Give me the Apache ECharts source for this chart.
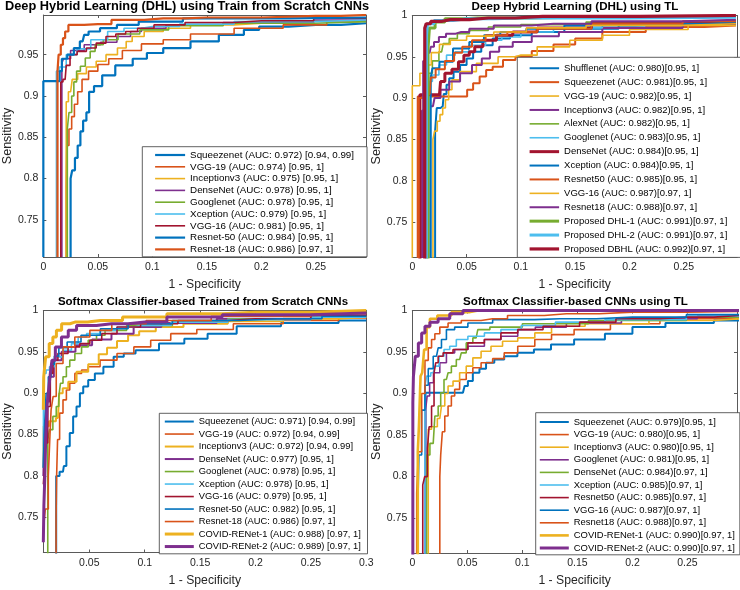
<!DOCTYPE html>
<html><head><meta charset="utf-8">
<script src="https://cdn.jsdelivr.net/npm/echarts@6/dist/echarts.min.js"></script>
<style>html,body{margin:0;padding:0;background:#fff}#c{width:740px;height:590px}</style>
</head><body><div id="c"></div>
<script>
// ---------- Panel titles ----------
const titles = [
  'Deep Hybrid Learning (DHL) using Train from Scratch CNNs',
  'Deep Hybrid Learning (DHL) using TL',
  'Softmax Classifier-based Trained from Scratch CNNs',
  'Softmax Classifier-based CNNs using TL'
];
const xName = '1 - Specificity';
const yName = 'Sensitivity';

// ---------- Panel 1: DHL, train from scratch ----------
const p1Labels = [
  'Squeezenet (AUC: 0.972) [0.94, 0.99]', 'VGG-19 (AUC: 0.974) [0.95, 1]', 'Inceptionv3 (AUC: 0.975) [0.95, 1]',
  'DenseNet (AUC: 0.978) [0.95, 1]', 'Googlenet (AUC: 0.978) [0.95, 1]', 'Xception (AUC: 0.979) [0.95, 1]',
  'VGG-16 (AUC: 0.981) [0.95, 1]', 'Resnet-50 (AUC: 0.984) [0.95, 1]', 'Resnet-18 (AUC: 0.986) [0.97, 1]'
];
const p1Squeezenet = [[0.025,0.705],[0.025,0.80],[0.028,0.81],[0.03,0.825],[0.033,0.84],[0.035,0.857],[0.038,0.87],[0.041,0.88],[0.043,0.905],[0.05,0.912],[0.058,0.925],[0.074,0.937],[0.09,0.945],[0.1,0.952],[0.12,0.958],[0.15,0.966],[0.172,0.974],[0.196,0.98],[0.2,0.984],[0.25,0.986],[0.296,0.988]];
const p1Vgg19 = [[0.021,0.705],[0.021,0.79],[0.022,0.84],[0.025,0.86],[0.027,0.875],[0.03,0.89],[0.033,0.905],[0.038,0.92],[0.045,0.93],[0.055,0.938],[0.065,0.945],[0.08,0.955],[0.1,0.963],[0.12,0.968],[0.15,0.975],[0.2,0.982],[0.24,0.986],[0.28,0.99],[0.296,0.991]];
const p1Inception = [[0.021,0.705],[0.021,0.893],[0.025,0.905],[0.028,0.92],[0.035,0.927],[0.044,0.935],[0.053,0.942],[0.062,0.95],[0.074,0.958],[0.078,0.966],[0.085,0.972],[0.1,0.978],[0.12,0.982],[0.15,0.986],[0.2,0.988],[0.296,0.991]];
const p1DenseNet = [[0.017,0.705],[0.017,0.94],[0.02,0.945],[0.03,0.955],[0.045,0.962],[0.06,0.965],[0.075,0.972],[0.085,0.978],[0.095,0.982],[0.13,0.986],[0.2,0.989],[0.296,0.992]];
const p1Googlenet = [[0.022,0.705],[0.022,0.86],[0.025,0.88],[0.027,0.9],[0.029,0.917],[0.032,0.93],[0.036,0.936],[0.041,0.946],[0.045,0.954],[0.05,0.962],[0.06,0.968],[0.077,0.975],[0.1,0.98],[0.13,0.985],[0.2,0.988],[0.296,0.99]];
const p1Xception = [[0.012,0.705],[0.012,0.93],[0.017,0.935],[0.025,0.95],[0.037,0.957],[0.05,0.968],[0.068,0.978],[0.08,0.982],[0.1,0.984],[0.15,0.987],[0.2,0.99],[0.296,0.992]];
const p1Vgg16 = [[0.016,0.705],[0.016,0.917],[0.02,0.92],[0.022,0.937],[0.027,0.95],[0.035,0.954],[0.044,0.958],[0.053,0.964],[0.062,0.972],[0.071,0.975],[0.08,0.978],[0.093,0.982],[0.11,0.986],[0.15,0.989],[0.2,0.991],[0.296,0.994]];
const p1Resnet50 = [[0,0.705],[0,0.918],[0.015,0.918],[0.015,0.93],[0.019,0.945],[0.025,0.95],[0.031,0.958],[0.036,0.966],[0.039,0.974],[0.044,0.978],[0.06,0.982],[0.075,0.986],[0.1,0.99],[0.156,0.994],[0.296,0.995]];
const p1Resnet18 = [[0.013,0.705],[0.013,0.93],[0.015,0.95],[0.017,0.962],[0.019,0.97],[0.021,0.978],[0.025,0.986],[0.05,0.987],[0.075,0.992],[0.11,0.994],[0.15,0.995],[0.25,0.997],[0.296,0.998]];

// ---------- Panel 2: DHL, transfer learning ----------
const p2Labels = [
  'Shufflenet (AUC: 0.980)[0.95, 1]', 'Squeezenet (AUC: 0.981)[0.95, 1]', 'VGG-19 (AUC: 0.982)[0.95, 1]',
  'Inceptionv3 (AUC: 0.982)[0.95, 1]', 'AlexNet (AUC: 0.982)[0.95, 1]', 'Googlenet (AUC: 0.983)[0.95, 1]',
  'DenseNet (AUC: 0.984)[0.95, 1]', 'Xception (AUC: 0.984)[0.95, 1]', 'Resnet50 (AUC: 0.985)[0.95, 1]',
  'VGG-16 (AUC: 0.987)[0.97, 1]', 'Resnet18 (AUC: 0.988)[0.97, 1]', 'Proposed DHL-1 (AUC: 0.991)[0.97, 1]',
  'Proposed DHL-2 (AUC: 0.991)[0.97, 1]', 'Proposed DBHL (AUC: 0.992)[0.97, 1]'
];
const p2Shufflenet = [[0.021,0.705],[0.021,0.86],[0.024,0.888],[0.028,0.89],[0.03,0.905],[0.033,0.916],[0.035,0.924],[0.041,0.932],[0.047,0.94],[0.053,0.948],[0.059,0.956],[0.068,0.964],[0.08,0.972],[0.1,0.976],[0.12,0.98],[0.16,0.984],[0.22,0.988],[0.298,0.99]];
const p2Squeezenet = [[0.005,0.705],[0.005,0.902],[0.048,0.902],[0.053,0.91],[0.059,0.918],[0.065,0.926],[0.071,0.934],[0.077,0.938],[0.09,0.946],[0.1,0.95],[0.12,0.957],[0.14,0.965],[0.16,0.972],[0.19,0.98],[0.24,0.986],[0.298,0.988]];
const p2Vgg19 = [[0.019,0.705],[0.019,0.85],[0.022,0.86],[0.024,0.872],[0.027,0.88],[0.029,0.888],[0.032,0.898],[0.035,0.91],[0.038,0.922],[0.05,0.932],[0.068,0.942],[0.09,0.95],[0.1,0.952],[0.13,0.962],[0.16,0.97],[0.19,0.976],[0.21,0.983],[0.298,0.988]];
const p2Inception = [[0.009,0.705],[0.009,0.885],[0.019,0.89],[0.022,0.9],[0.03,0.91],[0.038,0.92],[0.05,0.93],[0.06,0.94],[0.068,0.948],[0.075,0.956],[0.085,0.962],[0.1,0.968],[0.12,0.975],[0.15,0.98],[0.2,0.985],[0.298,0.99]];
const p2AlexNet = [[0.015,0.705],[0.015,0.93],[0.022,0.945],[0.027,0.956],[0.03,0.966],[0.038,0.972],[0.045,0.978],[0.06,0.982],[0.08,0.986],[0.12,0.989],[0.2,0.992],[0.298,0.994]];
const p2Googlenet = [[0.016,0.705],[0.016,0.92],[0.021,0.928],[0.028,0.94],[0.035,0.952],[0.044,0.956],[0.06,0.964],[0.075,0.97],[0.09,0.974],[0.11,0.98],[0.15,0.985],[0.2,0.988],[0.298,0.991]];
const p2DenseNet = [[0.007,0.705],[0.007,0.904],[0.025,0.904],[0.027,0.92],[0.033,0.93],[0.04,0.935],[0.045,0.944],[0.05,0.952],[0.055,0.956],[0.06,0.962],[0.07,0.97],[0.085,0.976],[0.1,0.98],[0.13,0.985],[0.2,0.99],[0.298,0.992]];
const p2Xception = [[0.017,0.705],[0.017,0.925],[0.02,0.936],[0.03,0.944],[0.045,0.96],[0.06,0.968],[0.072,0.976],[0.09,0.98],[0.12,0.984],[0.16,0.988],[0.25,0.99],[0.298,0.992]];
const p2Resnet50 = [[0.006,0.705],[0.006,0.9],[0.016,0.905],[0.018,0.925],[0.025,0.935],[0.035,0.945],[0.042,0.955],[0.05,0.962],[0.06,0.97],[0.075,0.976],[0.1,0.98],[0.13,0.984],[0.2,0.99],[0.298,0.993]];
const p2Vgg16 = [[0,0.705],[0,0.915],[0.007,0.915],[0.007,0.93],[0.015,0.94],[0.02,0.955],[0.03,0.965],[0.04,0.97],[0.06,0.975],[0.09,0.98],[0.12,0.985],[0.2,0.988],[0.298,0.99]];
const p2Resnet18 = [[0.01,0.705],[0.01,0.945],[0.016,0.955],[0.018,0.962],[0.022,0.968],[0.027,0.974],[0.035,0.978],[0.045,0.98],[0.06,0.984],[0.09,0.988],[0.13,0.99],[0.2,0.993],[0.298,0.995]];
const p2Dhl1 = [[0.0145,0.705],[0.0145,0.96],[0.017,0.985],[0.025,0.992],[0.035,0.996],[0.06,0.997],[0.15,0.998],[0.298,0.999]];
const p2Dhl2 = [[0.013,0.705],[0.013,0.975],[0.015,0.99],[0.025,0.994],[0.05,0.996],[0.1,0.997],[0.298,0.998]];
const p2Dbhl = [[0.0115,0.705],[0.0115,0.985],[0.014,0.99],[0.02,0.993],[0.035,0.995],[0.07,0.997],[0.12,0.999],[0.298,1]];

// ---------- Panel 3: Softmax, train from scratch ----------
const p3Labels = [
  'Squeezenet (AUC: 0.971) [0.94, 0.99]', 'VGG-19 (AUC: 0.972) [0.94, 0.99]', 'Inceptionv3 (AUC: 0.972) [0.94, 0.99]',
  'DenseNet (AUC: 0.977) [0.95, 1]', 'Googlenet (AUC: 0.978) [0.95, 1]', 'Xception (AUC: 0.978) [0.95, 1]',
  'VGG-16 (AUC: 0.979) [0.95, 1]', 'Resnet-50 (AUC: 0.982) [0.95, 1]', 'Resnet-18 (AUC: 0.986) [0.97, 1]',
  'COVID-RENet-1 (AUC: 0.988) [0.97, 1]', 'COVID-RENet-2 (AUC: 0.989) [0.97, 1]'
];
const p3Squeezenet = [[0.0201,0.705],[0.0201,0.8],[0.0262,0.805],[0.0278,0.812],[0.0308,0.836],[0.0339,0.852],[0.0369,0.872],[0.04,0.884],[0.043,0.9],[0.046,0.908],[0.052,0.916],[0.058,0.924],[0.0674,0.932],[0.0765,0.944],[0.0857,0.948],[0.0978,0.952],[0.128,0.96],[0.1435,0.966],[0.17,0.972],[0.196,0.981],[0.25,0.985],[0.3,0.988]];
const p3Vgg19 = [[0.02,0.705],[0.02,0.75],[0.021,0.8],[0.0217,0.844],[0.0247,0.876],[0.0278,0.892],[0.0308,0.904],[0.0339,0.912],[0.04,0.924],[0.046,0.928],[0.052,0.932],[0.0674,0.94],[0.0826,0.948],[0.0978,0.956],[0.113,0.964],[0.134,0.972],[0.16,0.977],[0.2,0.984],[0.25,0.988],[0.3,0.991]];
const p3Inception = [[0.0085,0.81],[0.0092,0.86],[0.018,0.866],[0.0217,0.87],[0.024,0.9],[0.028,0.906],[0.034,0.914],[0.043,0.926],[0.055,0.935],[0.062,0.947],[0.07,0.955],[0.08,0.963],[0.09,0.97],[0.1,0.975],[0.12,0.98],[0.15,0.984],[0.2,0.987],[0.25,0.99],[0.3,0.992]];
const p3DenseNet = [[0.0085,0.8],[0.011,0.86],[0.013,0.89],[0.016,0.92],[0.02,0.94],[0.03,0.95],[0.045,0.958],[0.06,0.965],[0.08,0.972],[0.1,0.98],[0.13,0.985],[0.2,0.99],[0.3,0.994]];
const p3Googlenet = [[0.0125,0.705],[0.0125,0.844],[0.0156,0.856],[0.0186,0.872],[0.0217,0.884],[0.0232,0.896],[0.0247,0.912],[0.0278,0.92],[0.0308,0.932],[0.0339,0.94],[0.04,0.948],[0.046,0.956],[0.052,0.964],[0.061,0.97],[0.0674,0.976],[0.1,0.982],[0.15,0.986],[0.2,0.99],[0.3,0.993]];
const p3Xception = [[0.0085,0.81],[0.0088,0.916],[0.0095,0.924],[0.0125,0.928],[0.0156,0.932],[0.0217,0.944],[0.0308,0.952],[0.0369,0.96],[0.043,0.968],[0.052,0.972],[0.0674,0.976],[0.0826,0.98],[0.0978,0.982],[0.15,0.986],[0.2,0.989],[0.3,0.992]];
const p3Vgg16 = [[0.0085,0.79],[0.0095,0.8],[0.011,0.84],[0.014,0.884],[0.0156,0.924],[0.0186,0.94],[0.0247,0.948],[0.0369,0.956],[0.046,0.96],[0.055,0.964],[0.0674,0.972],[0.0826,0.98],[0.11,0.984],[0.15,0.988],[0.2,0.99],[0.3,0.994]];
const p3Resnet50 = [[0.0085,0.81],[0.01,0.85],[0.012,0.9],[0.014,0.92],[0.017,0.935],[0.02,0.945],[0.025,0.955],[0.035,0.962],[0.05,0.97],[0.07,0.978],[0.1,0.984],[0.15,0.988],[0.22,0.99],[0.3,0.993]];
const p3Resnet18 = [[0.0085,0.735],[0.012,0.76],[0.014,0.8],[0.015,0.85],[0.016,0.88],[0.0186,0.896],[0.0217,0.936],[0.0308,0.956],[0.043,0.968],[0.058,0.976],[0.0826,0.984],[0.12,0.988],[0.2,0.993],[0.3,0.996]];
const p3CovidRenet1 = [[0.0085,0.88],[0.0092,0.92],[0.012,0.944],[0.0156,0.96],[0.0186,0.968],[0.022,0.976],[0.028,0.984],[0.037,0.986],[0.06,0.988],[0.1,0.992],[0.14,0.996],[0.2,0.998],[0.3,1]];
const p3CovidRenet2 = [[0.0085,0.72],[0.0095,0.764],[0.0102,0.8],[0.011,0.844],[0.0125,0.884],[0.014,0.904],[0.0156,0.924],[0.017,0.94],[0.0217,0.956],[0.028,0.968],[0.034,0.976],[0.043,0.982],[0.07,0.984],[0.1,0.986],[0.14,0.992],[0.2,0.995],[0.3,0.997]];

// ---------- Panel 4: Softmax, transfer learning ----------
const p4Labels = [
  'Squeezenet (AUC: 0.979)[0.95, 1]', 'VGG-19 (AUC: 0.980)[0.95, 1]', 'Inceptionv3 (AUC: 0.980)[0.95, 1]',
  'Googlenet (AUC: 0.981)[0.95, 1]', 'DenseNet (AUC: 0.984)[0.97, 1]', 'Xception (AUC: 0.985)[0.97, 1]',
  'Resnet50 (AUC: 0.985)[0.97, 1]', 'VGG-16 (AUC: 0.987)[0.97, 1]', 'Resnet18 (AUC: 0.988)[0.97, 1]',
  'COVID-RENet-1 (AUC: 0.990)[0.97, 1]', 'COVID-RENet-2 (AUC: 0.990)[0.97, 1]'
];
const p4Squeezenet = [[0.012,0.705],[0.012,0.901],[0.046,0.901],[0.049,0.909],[0.052,0.915],[0.058,0.925],[0.064,0.93],[0.07,0.937],[0.079,0.941],[0.088,0.945],[0.103,0.949],[0.118,0.953],[0.134,0.959],[0.16,0.965],[0.19,0.972],[0.21,0.98],[0.25,0.985],[0.298,0.988]];
const p4Vgg19 = [[0.025,0.705],[0.025,0.8],[0.0266,0.826],[0.028,0.854],[0.031,0.873],[0.034,0.885],[0.037,0.897],[0.04,0.905],[0.046,0.917],[0.052,0.925],[0.058,0.931],[0.067,0.937],[0.079,0.942],[0.088,0.949],[0.1036,0.957],[0.119,0.965],[0.134,0.971],[0.16,0.977],[0.2,0.984],[0.25,0.99],[0.298,0.991]];
const p4Inception = [[0.0145,0.705],[0.0145,0.857],[0.0205,0.86],[0.025,0.87],[0.028,0.885],[0.031,0.9],[0.034,0.909],[0.04,0.915],[0.046,0.925],[0.052,0.933],[0.058,0.943],[0.067,0.951],[0.076,0.957],[0.088,0.963],[0.1036,0.967],[0.119,0.973],[0.134,0.981],[0.18,0.984],[0.25,0.988],[0.298,0.99]];
const p4Googlenet = [[0.012,0.705],[0.012,0.88],[0.015,0.897],[0.0165,0.913],[0.022,0.925],[0.028,0.937],[0.034,0.949],[0.043,0.953],[0.058,0.957],[0.073,0.965],[0.088,0.969],[0.1036,0.977],[0.12,0.98],[0.16,0.985],[0.22,0.99],[0.298,0.993]];
const p4DenseNet = [[0.013,0.705],[0.013,0.826],[0.019,0.84],[0.022,0.873],[0.025,0.885],[0.0266,0.901],[0.031,0.917],[0.034,0.925],[0.037,0.933],[0.043,0.941],[0.046,0.949],[0.052,0.961],[0.058,0.967],[0.061,0.977],[0.08,0.98],[0.12,0.984],[0.2,0.988],[0.298,0.992]];
const p4Xception = [[0.0115,0.705],[0.0115,0.909],[0.0145,0.921],[0.019,0.925],[0.022,0.933],[0.0266,0.945],[0.031,0.953],[0.037,0.957],[0.043,0.965],[0.058,0.969],[0.073,0.973],[0.088,0.977],[0.11,0.982],[0.15,0.986],[0.2,0.989],[0.298,0.993]];
const p4Resnet50 = [[0.0095,0.705],[0.0095,0.79],[0.013,0.8],[0.0145,0.834],[0.016,0.86],[0.019,0.885],[0.0205,0.925],[0.022,0.937],[0.025,0.945],[0.031,0.949],[0.043,0.953],[0.058,0.961],[0.073,0.965],[0.088,0.973],[0.1036,0.977],[0.134,0.981],[0.17,0.986],[0.2,0.99],[0.25,0.992],[0.298,0.994]];
const p4Vgg16 = [[0.005,0.705],[0.005,0.76],[0.007,0.826],[0.01,0.88],[0.013,0.91],[0.016,0.93],[0.022,0.945],[0.025,0.955],[0.028,0.965],[0.034,0.977],[0.043,0.98],[0.058,0.985],[0.088,0.989],[0.134,0.99],[0.2,0.992],[0.298,0.995]];
const p4Resnet18 = [[0.004,0.705],[0.004,0.78],[0.007,0.83],[0.01,0.9],[0.013,0.94],[0.016,0.955],[0.019,0.965],[0.022,0.972],[0.028,0.98],[0.037,0.985],[0.052,0.988],[0.073,0.99],[0.1,0.994],[0.14,0.996],[0.2,0.998],[0.298,0.999]];
const p4CovidRenet1 = [[0.005,0.705],[0.005,0.83],[0.007,0.86],[0.008,0.921],[0.01,0.925],[0.0115,0.953],[0.0145,0.98],[0.0175,0.99],[0.028,0.994],[0.043,0.998],[0.06,1],[0.298,1]];
const p4CovidRenet2 = [[0.0005,0.705],[0.0005,0.889],[0.0015,0.92],[0.004,0.945],[0.007,0.961],[0.01,0.973],[0.013,0.981],[0.019,0.986],[0.028,0.99],[0.04,0.996],[0.052,1],[0.298,1]];

// ---------- Styles (MATLAB default colour order) ----------
const MB='#0072BD', MO='#D95319', MY='#EDB120', MP='#7E2F8E', MG='#77AC30', MC='#4DBEEE', MR='#A2142F';
const FONT = '"Liberation Sans", Arial, Helvetica, sans-serif';

const panels = [
  {labels:p1Labels, curves:[p1Squeezenet,p1Vgg19,p1Inception,p1DenseNet,p1Googlenet,p1Xception,p1Vgg16,p1Resnet50,p1Resnet18],
   colors:[MB,MO,MY,MP,MG,MC,MR,MB,MO], widths:[2.2,1.6,1.6,1.6,1.6,1.6,1.6,2.2,2.2]},
  {labels:p2Labels, curves:[p2Shufflenet,p2Squeezenet,p2Vgg19,p2Inception,p2AlexNet,p2Googlenet,p2DenseNet,p2Xception,p2Resnet50,p2Vgg16,p2Resnet18,p2Dhl1,p2Dhl2,p2Dbhl],
   colors:[MB,MO,MY,MP,MG,MC,MR,MB,MO,MY,MP,MG,MC,MR], widths:[2,2,1.6,2,1.6,1.6,3,2,2,1.6,2,3,3,3.2]},
  {labels:p3Labels, curves:[p3Squeezenet,p3Vgg19,p3Inception,p3DenseNet,p3Googlenet,p3Xception,p3Vgg16,p3Resnet50,p3Resnet18,p3CovidRenet1,p3CovidRenet2],
   colors:[MB,MO,MY,MP,MG,MC,MR,MB,MO,MY,MP], widths:[2,1.6,2,2,1.6,1.6,1.6,1.6,1.6,3,3]},
  {labels:p4Labels, curves:[p4Squeezenet,p4Vgg19,p4Inception,p4Googlenet,p4DenseNet,p4Xception,p4Resnet50,p4Vgg16,p4Resnet18,p4CovidRenet1,p4CovidRenet2],
   colors:[MB,MO,MY,MP,MG,MC,MR,MB,MO,MY,MP], widths:[2,1.6,1.6,1.6,1.6,1.6,1.6,1.6,1.6,2.6,3]}
];

const layout = [
  {grid:{left:42.3, top:15, width:323.7, height:242}, xr:[0,0.296], yr:[0.705,0.998],
   title:{left:5, top:0, align:'left', size:12.8},
   legend:{left:142.3, top:146.7, padding:[2.4,13,1.5,11.7], size:9.8, lh:11.8, iw:30}},
  {grid:{left:412.3, top:15.5, width:325.7, height:241.5}, xr:[0,0.299], yr:[0.7075,1],
   title:{left:575, top:1, align:'center', size:11.6},
   legend:{left:517.3, top:57.3, padding:[4,14,1.5,10.7], size:9.5, lh:13.9, iw:29.5}},
  {grid:{left:42.3, top:310.5, width:324, height:242}, xr:[0.0085,0.3], yr:[0.7075,1],
   title:{left:203, top:296, align:'center', size:11.5},
   legend:{left:159.3, top:413.3, padding:[2,6.7,1,4], size:9.35, lh:12.5, iw:29}},
  {grid:{left:412.3, top:310.5, width:326, height:242.5}, xr:[0,0.295], yr:[0.708,1],
   title:{left:575.5, top:296, align:'center', size:11.6},
   legend:{left:535.7, top:412.7, padding:[3,5,0.5,2.6], size:9.45, lh:12.6, iw:29}}
];

function tickFmt(v){
  const k = v/0.05;
  if (Math.abs(k-Math.round(k))>1e-6) return '';
  return String(+v.toFixed(4));
}
const AX = '#5a5a5a', TXT = '#262626';

const option = {animation:false, backgroundColor:'#fff', title:[], grid:[], xAxis:[], yAxis:[], legend:[], series:[]};

panels.forEach((p, pi) => {
  const L = layout[pi];
  option.title.push({text:titles[pi], left:L.title.left, top:L.title.top, padding:0, textAlign:L.title.align,
    textStyle:{fontSize:L.title.size, fontWeight:'bold', color:'#000', fontFamily:FONT}});
  option.grid.push(Object.assign({show:false}, L.grid));
  const common = {type:'value', gridIndex:pi, scale:true, splitLine:{show:false},
    axisLine:{show:true, onZero:false, lineStyle:{color:AX, width:1}},
    axisTick:{show:true, inside:true, length:3, lineStyle:{color:AX}}};
  option.xAxis.push(Object.assign({}, common, {position:'bottom', min:L.xr[0], max:L.xr[1],
    name:xName, nameLocation:'middle', nameGap:22, nameTextStyle:{fontSize:12.2, color:TXT, fontFamily:FONT},
    axisLabel:{show:true, margin:5, fontSize:10.5, color:TXT, fontFamily:FONT, formatter:tickFmt, showMinLabel:true, showMaxLabel:true, hideOverlap:false}}));
  option.xAxis.push(Object.assign({}, common, {position:'top', min:L.xr[0], max:L.xr[1], axisLabel:{show:false}}));
  option.yAxis.push(Object.assign({}, common, {position:'left', min:L.yr[0], max:L.yr[1],
    name:yName, nameLocation:'middle', nameGap:25, nameTextStyle:{fontSize:12.5, color:TXT, fontFamily:FONT},
    axisLabel:{show:true, margin:5, fontSize:10.5, color:TXT, fontFamily:FONT, formatter:tickFmt, showMinLabel:true, showMaxLabel:true, hideOverlap:false}}));
  option.yAxis.push(Object.assign({}, common, {position:'right', min:L.yr[0], max:L.yr[1], axisLabel:{show:false}}));

  const legendData = [];
  p.labels.forEach((lab, i) => {
    const name = 'p' + pi + '|' + lab;
    legendData.push({name:name, lineStyle:{color:p.colors[i], width:p.widths[i]},
      itemStyle:{color:'rgba(0,0,0,0)', borderColor:'rgba(0,0,0,0)', borderWidth:0, opacity:0}});
    option.series.push({type:'line', name:name, xAxisIndex:2*pi, yAxisIndex:2*pi, data:p.curves[i],
      step:'middle', symbol:'none', showSymbol:false, clip:true, silent:true,
      lineStyle:{color:p.colors[i], width:p.widths[i]}, itemStyle:{color:p.colors[i]}});
  });
  option.legend.push({show:true, orient:'vertical', left:L.legend.left, top:L.legend.top, padding:L.legend.padding,
    itemWidth:L.legend.iw, itemHeight:6, itemGap:0, selectedMode:false, backgroundColor:'#fff',
    borderColor:'#3a3a3a', borderWidth:0.8, borderRadius:0, data:legendData,
    formatter:(n) => n.slice(n.indexOf('|')+1),
    textStyle:{fontSize:L.legend.size, lineHeight:L.legend.lh, color:'#000', fontFamily:FONT}});
});

const chart = echarts.init(document.getElementById('c'), null, {renderer:'canvas'});
chart.setOption(option);
</script></body></html>
